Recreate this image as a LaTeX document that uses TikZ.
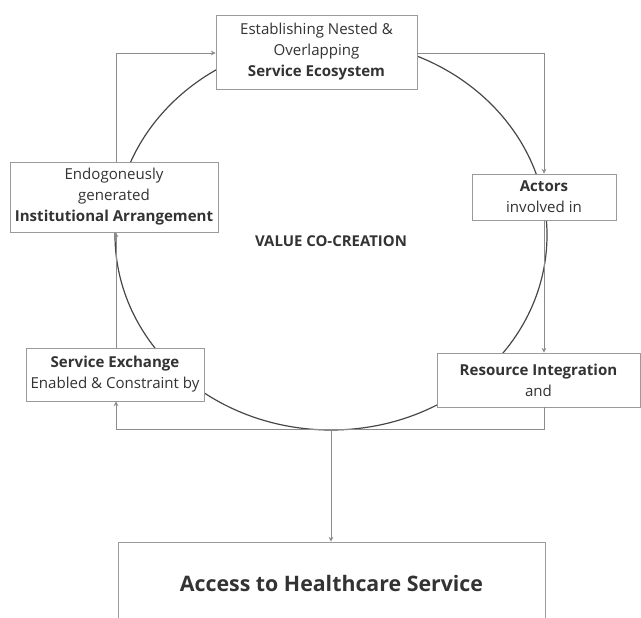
\documentclass[tikz,border=0pt]{standalone}
\usepackage{fontspec}
\setmainfont{Open Sans}
\usetikzlibrary{arrows.meta}
\definecolor{boxline}{HTML}{9A9A9A}
\definecolor{linkline}{HTML}{8C8C8C}
\definecolor{loopline}{HTML}{484848}
\definecolor{txt}{HTML}{333333}
\begin{document}
\begin{tikzpicture}[x=0.75pt, y=-0.75pt,
    box/.style={draw=boxline, fill=white, line width=0.7pt, align=center, inner sep=0pt,
        text=txt, font=\fontsize{11.3}{15.8}\selectfont},
    link/.style={draw=linkline, line width=0.7pt, -{Stealth[length=3.5pt, width=3.5pt]}}]
    \useasboundingbox (0,0) rectangle (641,617);
    \clip (0,0) rectangle (641,617);
    \draw[loopline, line width=0.9pt] (331,235) ellipse [x radius=162pt, y radius=146.25pt];
    \node[box, minimum width=150.75pt, minimum height=55.5pt] (eco) at (316.5,52)
        {Establishing Nested \&\\Overlapping\\\textbf{Service Ecosystem}};
    \node[box, minimum width=156pt, minimum height=52.5pt] (inst) at (114,197)
        {Endogoneusly\\generated\\\textbf{Institutional Arrangement}};
    \node[box, minimum width=108pt, minimum height=34.5pt] (actors) at (544,197)
        {\textbf{Actors}\\involved in};
    \node[box, minimum width=133.5pt, minimum height=39.75pt] (exch) at (115,374.5)
        {\textbf{Service Exchange}\\Enabled \& Constraint by};
    \node[box, minimum width=152.25pt, minimum height=40.5pt] (res) at (538.5,380)
        {\textbf{Resource Integration}\\and};
    \node[box, minimum width=320.25pt, minimum height=61.5pt, font=\fontsize{16}{19}\selectfont\bfseries] (access) at (331.5,583)
        {Access to Healthcare Service};
    \node[text=txt, font=\fontsize{11.2}{13}\selectfont\bfseries] (vcc) at (331,241) {VALUE CO-CREATION};
    \coordinate (tl) at (116,53);
    \coordinate (tr) at (544,53);
    \coordinate (br) at (544,429);
    \coordinate (bl) at (116,429);
    \coordinate (cb) at (331,430);
    \draw[link] (tl |- inst.north) -- (tl) -- (eco.west |- tl);
    \draw[link] (eco.east |- tr) -- (tr) -- (tr |- actors.north);
    \draw[link] (br |- actors.south) -- (br |- res.north);
    \draw[link] (br |- res.south) -- (br) -- (bl) -- (bl |- exch.south);
    \draw[link] (bl |- exch.north) -- (bl |- inst.south);
    \draw[link] (cb) -- (cb |- access.north);
\end{tikzpicture}
\end{document}
